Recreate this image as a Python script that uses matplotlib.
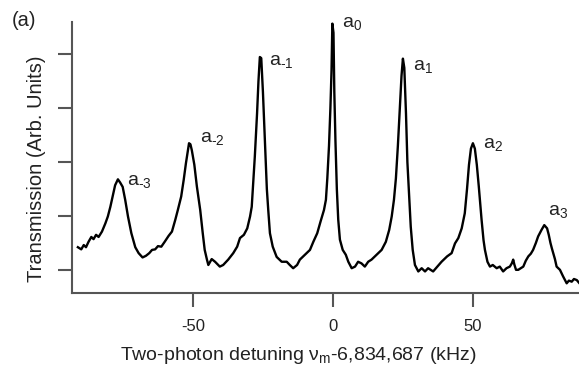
import numpy as np
from matplotlib import pyplot as plt

plt.rcParams['font.family'] = ['Liberation Sans', 'DejaVu Sans']
plt.rcParams['mathtext.fontset'] = 'custom'
plt.rcParams['mathtext.rm'] = 'Liberation Sans'
plt.rcParams['mathtext.it'] = 'Liberation Sans'
plt.rcParams['mathtext.bf'] = 'Liberation Sans:bold'

# traced transmission spectrum (detuning in kHz, transmission in arb. units)
detuning = [
    -91.1, -89.9, -89.0, -88.2, -87.3, -86.3, -85.5, -84.6, -83.7, -82.5,
    -81.3, -80.4, -79.5, -78.7, -77.8, -76.8, -76.0, -75.1, -74.2, -73.2,
    -72.0, -70.6, -69.4, -68.0, -66.8, -65.6, -64.6, -63.5, -62.5, -61.3,
    -60.1, -58.7, -57.5, -56.3, -55.4, -54.2, -53.3, -52.5, -51.4, -50.9,
    -50.4, -49.5, -48.6, -47.4, -46.5, -45.8, -45.0, -44.5, -43.3, -42.1,
    -40.4, -39.2, -37.4, -35.6, -34.2, -33.2, -31.8, -30.6, -29.6, -29.0,
    -28.5, -27.9, -27.1, -26.6, -26.1, -25.6, -25.0, -24.3, -23.6, -23.1,
    -22.5, -21.5, -20.1, -18.3, -16.5, -15.4, -14.2, -12.8, -11.8, -10.0,
    -8.2, -7.0, -5.6, -4.4, -3.2, -2.5, -2.0, -1.4, -0.9, -0.5,
    -0.2, 0.2, 0.5, 0.9, 1.4, 1.9, 2.5, 3.5, 4.6, 5.5,
    6.7, 7.9, 9.0, 10.2, 11.4, 12.6, 13.8, 15.6, 17.4, 18.9,
    20.1, 21.0, 21.8, 22.5, 23.2, 23.9, 24.5, 25.0, 25.5, 26.1,
    26.6, 27.3, 27.8, 28.5, 29.3, 30.5, 31.7, 32.9, 34.0, 35.8,
    37.3, 38.8, 40.8, 42.4, 43.6, 44.8, 46.0, 47.1, 47.9, 48.6,
    49.3, 50.0, 50.7, 51.4, 52.1, 53.1, 53.8, 54.3, 55.2, 56.1,
    57.1, 58.5, 59.6, 60.8, 62.0, 63.2, 63.9, 64.4, 64.8, 65.4,
    66.2, 67.1, 68.0, 68.9, 69.8, 70.7, 71.5, 72.5, 73.3, 74.5,
    75.5, 76.5, 77.1, 77.7, 78.2, 78.7, 79.3, 79.9, 81.1, 82.2,
    83.5, 84.3, 85.3, 86.1, 87.1, 87.9,
]
transmission = [
    0.42, 0.38, 0.46, 0.42, 0.52, 0.61, 0.57, 0.65, 0.61, 0.71,
    0.86, 0.99, 1.17, 1.36, 1.57, 1.68, 1.62, 1.54, 1.30, 0.99,
    0.68, 0.42, 0.31, 0.23, 0.26, 0.31, 0.37, 0.38, 0.44, 0.43,
    0.52, 0.63, 0.71, 0.93, 1.11, 1.36, 1.67, 1.98, 2.35, 2.33,
    2.22, 1.95, 1.55, 1.11, 0.68, 0.37, 0.19, 0.09, 0.20, 0.15,
    0.06, 0.09, 0.19, 0.31, 0.43, 0.59, 0.65, 0.77, 0.99, 1.17,
    1.60, 2.10, 2.90, 3.50, 3.95, 3.93, 3.30, 2.40, 1.50, 1.11,
    0.68, 0.43, 0.24, 0.15, 0.15, 0.09, 0.03, 0.09, 0.19, 0.28,
    0.37, 0.52, 0.68, 0.90, 1.11, 1.30, 1.70, 2.30, 3.00, 3.70,
    4.57, 4.40, 3.30, 2.40, 1.50, 0.93, 0.56, 0.37, 0.28, 0.15,
    0.03, 0.06, 0.15, 0.12, 0.06, 0.15, 0.19, 0.28, 0.37, 0.52,
    0.74, 0.99, 1.30, 1.70, 2.30, 3.00, 3.60, 3.92, 3.75, 2.90,
    2.00, 1.30, 0.80, 0.37, 0.09, -0.03, 0.03, -0.03, 0.03, -0.03,
    0.06, 0.15, 0.25, 0.31, 0.49, 0.59, 0.77, 1.05, 1.50, 1.95,
    2.25, 2.35, 2.25, 1.95, 1.55, 0.93, 0.55, 0.37, 0.15, 0.06,
    0.09, 0.03, 0.06, -0.03, 0.03, 0.06, 0.12, 0.19, 0.10, 0.00,
    0.00, 0.03, 0.06, 0.17, 0.25, 0.30, 0.37, 0.50, 0.62, 0.74,
    0.83, 0.77, 0.65, 0.50, 0.40, 0.31, 0.20, 0.06, 0.00, -0.12,
    -0.25, -0.20, -0.22, -0.17, -0.19, -0.24,
]

# sideband labels and where they sit
peak_names = ['-3', '-2', '-1', '0', '1', '2', '3']
label_x = [-73.6, -47.5, -22.9, 3.1, 28.6, 53.6, 76.8]
label_y = [1.57, 2.37, 3.80, 4.50, 3.70, 2.26, 1.02]

x_ticks = [-50, 0, 50]
y_ticks = [0, 1, 2, 3, 4]

fig = plt.figure(figsize=(5.79, 3.71), dpi=100)
ax = fig.add_axes([72 / 579, 1 - 293 / 371, 507 / 579, 271 / 371])

ax.plot(detuning, transmission, color='black', lw=1.7, clip_on=False)

for name, lx, ly in zip(peak_names, label_x, label_y):
    sub = name.replace('-', r'\text{-}')
    ax.text(lx, ly, r'a$_{%s}$' % sub, fontsize=14, color='#222222',
            ha='left', va='baseline')

ax.set_xlim(-93.2, 87.9)
ax.set_ylim(-0.43, 4.6)
ax.set_xticks(x_ticks)
ax.set_xticklabels([str(t) for t in x_ticks])
ax.set_yticks(y_ticks)
ax.set_yticklabels([])

spine_col = '#555555'
for side in ['top', 'right']:
    ax.spines[side].set_visible(False)
for side in ['left', 'bottom']:
    ax.spines[side].set_color(spine_col)
    ax.spines[side].set_linewidth(1.5)
ax.tick_params(direction='out', length=10, width=1.5, color=spine_col,
               labelsize=12, labelcolor='#222222', pad=9)

fig.text(298 / 579, 1 - 356 / 371, r'Two-photon detuning ν$_{\mathrm{m}}$-6,834,687 (kHz)',
         fontsize=14, color='#222222', ha='center', va='center')
fig.text(37 / 579, 1 - 169 / 371, 'Transmission (Arb. Units)', rotation=90,
         fontsize=14.5, color='#222222', ha='center', va='center')
fig.text(12 / 579, 1 - 20 / 371, '(a)', fontsize=14.5, color='#222222',
         ha='left', va='center')

fig.savefig('out.png', dpi=100)
